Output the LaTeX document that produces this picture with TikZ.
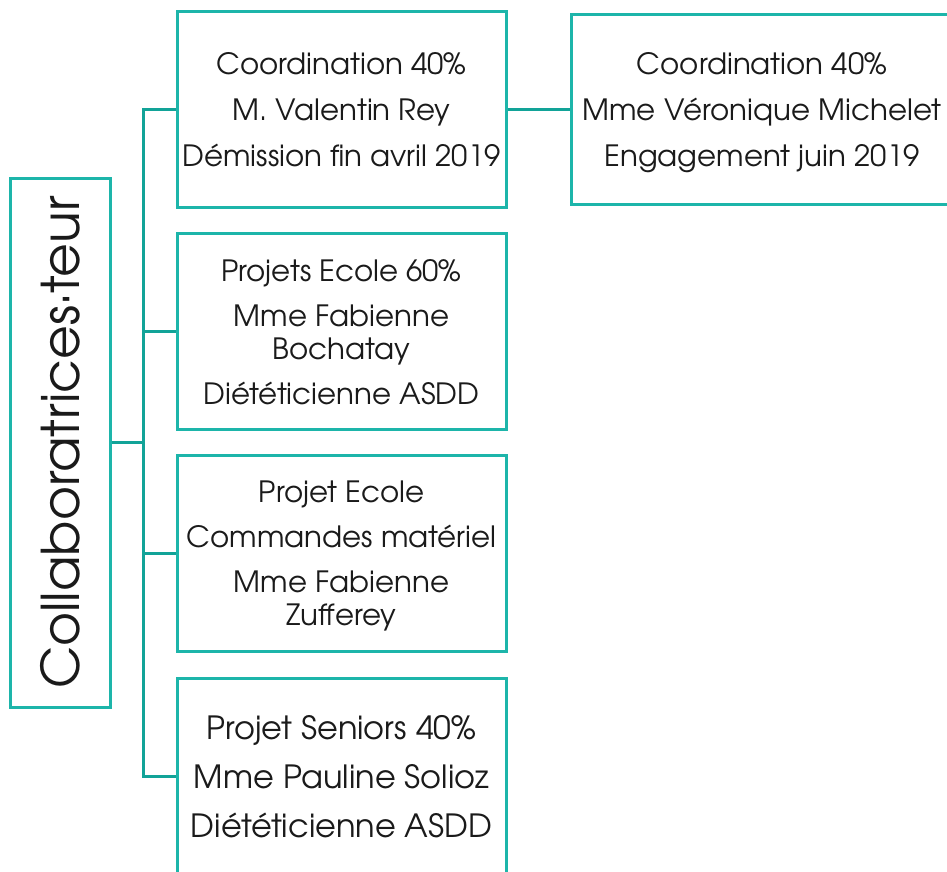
\documentclass[tikz,border=0pt]{standalone}
\usepackage{fontspec}
\usepackage{graphicx}
\setmainfont{TeX Gyre Adventor}
\usetikzlibrary{positioning}

\definecolor{boxteal}{HTML}{1DB5AA}
\definecolor{lineteal}{HTML}{12A398}
\definecolor{ink}{HTML}{1A1A1A}

\tikzset{
  poste/.style={draw=boxteal, line width=3pt, text=ink, align=center,
    minimum width=329pt, minimum height=196pt, inner sep=0pt, text depth=0pt,
    font=\fontsize{29.3}{33}\selectfont},
  racine/.style={draw=boxteal, line width=3pt, text=ink,
    minimum width=100pt, minimum height=529pt, inner sep=0pt,
    font=\fontsize{52}{56}\selectfont},
  lien/.style={draw=lineteal, line width=3pt},
}

\begin{document}
\begin{tikzpicture}[x=1pt, y=-1pt]
\clip (0,0) rectangle (947,872);
\useasboundingbox (0,0) rectangle (947,872);

% root of the chart, text turned upright
\node[racine] (root) at (60,442.5) {\rotatebox{90}{Collaboratrices·teur}};

% the four posts
\node[poste] (coord) at (341.5,109.5) {Coordination 40\%\\[13pt]M. Valentin Rey\\[13pt]Démission fin avril 2019};
\node[poste] (ecole) at (341.5,331.5) {Projets Ecole 60\%\\[12pt]Mme Fabienne\\Bochatay\\[12pt]Diététicienne ASDD};
\node[poste] (materiel) at (341.5,553.5) {Projet Ecole\\[12pt]Commandes matériel\\[12pt]Mme Fabienne\\Zufferey};
\node[poste, font=\fontsize{32}{36}\selectfont] (seniors) at (341.5,776) {Projet Seniors 40\%\\[13pt]Mme Pauline Solioz\\[13pt]Diététicienne ASDD};

% successor
\node[poste, minimum width=381pt, minimum height=189pt] (michelet) at (762,109.5) {Coordination 40\%\\[13pt]Mme Véronique Michelet\\[13pt]Engagement juin 2019};

% connectors
\draw[lien] (coord.west) -- ++(-32,0) coordinate (tronc) |- (seniors.west);
\draw[lien] (root.east) -- (root.east -| tronc);
\foreach \n in {ecole, materiel} {
  \draw[lien] (\n.west) -- (\n.west -| tronc);
}
\draw[lien] (coord.east) -- (michelet.west);

\end{tikzpicture}
\end{document}
